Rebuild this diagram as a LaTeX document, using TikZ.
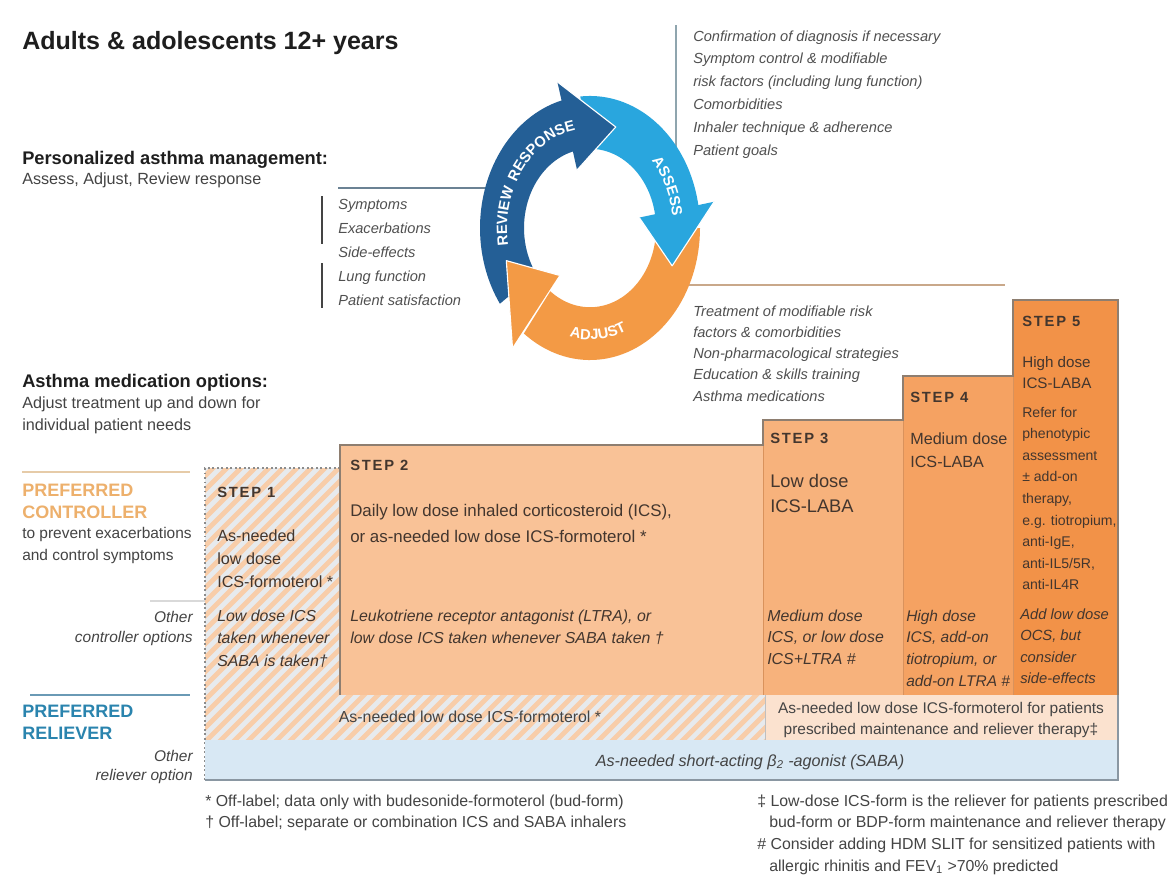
\documentclass[tikz,border=0pt]{standalone}
\usepackage{fontspec}
\setmainfont{Liberation Sans}
\newfontfamily\stepfont{Liberation Sans}[LetterSpace=12]
\newfontfamily\ringfont{Liberation Sans}[LetterSpace=16]
\usetikzlibrary{decorations.text}

\newcommand{\fsz}[1]{\fontsize{#1}{#1}\selectfont}
% ring geometry (cycle scope units)
\newcommand{\ringin}{66}
\newcommand{\ringout}{110}
\newcommand{\ringmid}{88}
\newcommand{\ringbarb}{16}

\definecolor{titleblack}{HTML}{1E1E1E}
\definecolor{txtgray}{HTML}{444444}
\definecolor{listgray}{HTML}{505050}
\definecolor{ringnavy}{HTML}{245F96}
\definecolor{ringsky}{HTML}{29A6DE}
\definecolor{ringorange}{HTML}{F39A45}
\definecolor{steptwo}{HTML}{F9C297}
\definecolor{stepthree}{HTML}{F7B27C}
\definecolor{stepfour}{HTML}{F5A262}
\definecolor{stepfive}{HTML}{F29248}
\definecolor{stepedge}{HTML}{8E7E70}
\definecolor{stepdiv}{HTML}{D9925C}
\definecolor{steptext}{HTML}{43362E}
\definecolor{hatchbg}{HTML}{E7EAED}
\definecolor{hatchline}{HTML}{F8CDA9}
\definecolor{relpeach}{HTML}{FBE2CF}
\definecolor{sabablue}{HTML}{D8E8F4}
\definecolor{tableedge}{HTML}{8A97A2}
\definecolor{ctrlorange}{HTML}{EDB06C}
\definecolor{ctrlline}{HTML}{E6CBA8}
\definecolor{relblue}{HTML}{2A84AE}
\definecolor{relline}{HTML}{6A9AB5}
\definecolor{reviewline}{HTML}{6B8294}
\definecolor{assessline}{HTML}{8FA5AE}
\definecolor{adjustline}{HTML}{C9A88A}

\tikzset{
  plain/.style={anchor=base west, inner sep=0pt, text=txtgray},
  plainr/.style={anchor=base east, inner sep=0pt, text=txtgray},
  plainc/.style={anchor=base, inner sep=0pt, text=txtgray},
  heading/.style={plain, text=titleblack, font=\bfseries\fsz{13}},
  listitem/.style={plain, text=listgray, font=\itshape\fsz{10.4}},
  steplabel/.style={plain, text=steptext, font=\stepfont\bfseries\fsz{10.5}},
  steptxt/.style={plain, text=steptext},
  otheropt/.style={plain, text=steptext, font=\itshape\fsz{11.3}},
  sidelabel/.style={plainr, font=\itshape\fsz{11}},
  hatch/.style={hatchline, line width=3.5pt},
  ringlabel/.style={decorate, decoration={text along path, text align=center,
      text color=white, text={|\ringfont\bfseries\fsz{10.5}|#1}}}
}

% thick arc of the cycle, from angle #1 to angle #2
\newcommand{\ringband}[3]{%
  \fill[#3] plot[variable=\ang, domain=0:1, samples=50]
      ({\ringout*cos((#1)+((#2)-(#1))*\ang)},{\ringout*sin((#1)+((#2)-(#1))*\ang)})
    -- plot[variable=\ang, domain=0:1, samples=50]
      ({\ringin*cos((#2)+((#1)-(#2))*\ang)},{\ringin*sin((#2)+((#1)-(#2))*\ang)})
    -- cycle;}
% arrow head of the cycle, back at angle #1, tip at angle #2
\newcommand{\ringtip}[3]{%
  \fill[#3] ({\ringin*cos(#1)},{\ringin*sin(#1)})
    -- ({(\ringin-\ringbarb)*cos(#1)},{(\ringin-\ringbarb)*sin(#1)})
    -- ({\ringmid*cos(#2)},{\ringmid*sin(#2)})
    -- ({(\ringout+\ringbarb)*cos(#1)},{(\ringout+\ringbarb)*sin(#1)})
    -- ({\ringout*cos(#1)},{\ringout*sin(#1)}) -- cycle;
  \draw[white, line width=0.8pt, line join=round]
    ({(\ringin-\ringbarb)*cos(#1)},{(\ringin-\ringbarb)*sin(#1)})
    -- ({\ringmid*cos(#2)},{\ringmid*sin(#2)})
    -- ({(\ringout+\ringbarb)*cos(#1)},{(\ringout+\ringbarb)*sin(#1)});}

\begin{document}
\begin{tikzpicture}[x=0.025cm, y=-0.025cm]
    \useasboundingbox (0,0) rectangle (1176,881);
    \fill[white] (0,0) rectangle (1176,881);

    % Headings
    \node[plain, text=titleblack, font=\bfseries\fsz{17.8}] (title) at (22,49) {Adults \& adolescents 12+ years};
    \node[heading] (pamhead) at (22,164) {Personalized asthma management:};
    \node[plain, font=\fsz{11.5}] (pamsub) at (22,184) {Assess, Adjust, Review response};
    \node[heading] (medhead) at (22,387) {Asthma medication options:};
    \node[plain, font=\fsz{11.5}] (medsub1) at (22,408) {Adjust treatment up and down for};
    \node[plain, font=\fsz{11.5}] (medsub2) at (22,430) {individual patient needs};

    % Lines to the lists
    \draw[reviewline, line width=1.2pt] (338,188) -- (500,188);
    \draw[txtgray, line width=0.8pt] (322,196) -- (322,244);
    \draw[txtgray, line width=0.8pt] (322,263) -- (322,308);
    \draw[assessline, line width=1pt] (676,25) -- (676,165);
    \draw[adjustline, line width=1.2pt] (682,285) -- (1005,285);

    % Lists
    \foreach \txt [count=\i] in {Confirmation of diagnosis if necessary, Symptom control \& modifiable,
        risk factors (including lung function), Comorbidities, Inhaler technique \& adherence, Patient goals}
      \node[listitem] (assess\i) at (693,{41+(\i-1)*22.9}) {\txt};
    \foreach \txt [count=\i] in {Symptoms, Exacerbations, Side-effects, Lung function, Patient satisfaction}
      \node[listitem] (review\i) at (338,{209+(\i-1)*24}) {\txt};
    \foreach \txt [count=\i] in {Treatment of modifiable risk, factors \& comorbidities,
        Non-pharmacological strategies, Education \& skills training, Asthma medications}
      \node[listitem] (adjust\i) at (693,{316+(\i-1)*21.3}) {\txt};

    % Cycle
    \begin{scope}[shift={(590,228)}, y=0.03cm]
      \ringband{215}{104}{ringnavy}
      \ringband{95}{9}{ringsky}
      \ringband{0}{-127}{ringorange}
      \ringtip{105}{73}{ringnavy}
      \ringtip{10}{-21}{ringsky}
      \ringtip{-128}{-162}{ringorange}
      \path[ringlabel={REVIEW RESPONSE}] plot[variable=\ang, domain=0:1, samples=60]
        ({83*cos(214-142*\ang)},{83*sin(214-142*\ang)});
      \path[ringlabel={ASSESS}] plot[variable=\ang, domain=0:1, samples=60]
        ({83*cos(95-135*\ang)},{83*sin(95-135*\ang)});
      \path[ringlabel={ADJUST}] plot[variable=\ang, domain=0:1, samples=60]
        ({93*cos(235+80*\ang)},{93*sin(235+80*\ang)});
    \end{scope}

    % Left labels
    \draw[ctrlline, line width=1pt] (22,472) -- (190,472);
    \node[plain, text=ctrlorange, font=\bfseries\fsz{12.8}] (ctrl1) at (22,496) {PREFERRED};
    \node[plain, text=ctrlorange, font=\bfseries\fsz{12.8}] (ctrl2) at (22,518) {CONTROLLER};
    \node[plain, font=\fsz{11}] (ctrlsub1) at (22,538) {to prevent exacerbations};
    \node[plain, font=\fsz{11}] (ctrlsub2) at (22,560) {and control symptoms};
    \draw[black!15, line width=0.8pt] (150,601) -- (205,601);
    \node[sidelabel] (othctrl1) at (193,622) {Other};
    \node[sidelabel] (othctrl2) at (193,642) {controller options};
    \draw[relline, line width=1pt] (30,695) -- (190,695);
    \node[plain, text=relblue, font=\bfseries\fsz{12.8}] (rel1) at (22,717) {PREFERRED};
    \node[plain, text=relblue, font=\bfseries\fsz{12.8}] (rel2) at (22,739) {RELIEVER};
    \node[sidelabel] (othrel1) at (193,761) {Other};
    \node[sidelabel] (othrel2) at (193,780) {reliever option};

    % Step 1 and as-needed reliever: hatched
    \begin{scope}
      \clip (205,468) rectangle (340,740) (340,695) rectangle (765,740);
      \fill[hatchbg] (205,468) rectangle (765,740);
      \foreach \xs in {-120,-106,...,780}
        \draw[hatch] (\xs,745) -- ++(300,-300);
    \end{scope}
    \draw[black!45, line width=1.2pt, dotted] (340,468) -- (205,468) -- (205,780);

    \node[steplabel] (s1head) at (217,497) {STEP 1};
    \foreach \txt [count=\i] in {As-needed, low dose, ICS-formoterol *}
      \node[steptxt, font=\fsz{11.5}] (s1pref\i) at (217,{541+(\i-1)*23}) {\txt};
    \foreach \txt [count=\i] in {Low dose ICS, taken whenever, SABA is taken†}
      \node[otheropt] (s1other\i) at (217,{621+(\i-1)*22.5}) {\txt};

    % Steps 2-5
    \fill[steptwo] (340,445) rectangle (763,695);
    \fill[stepthree] (763,420) rectangle (903,695);
    \fill[stepfour] (903,376) rectangle (1013,695);
    \fill[stepfive] (1013,300) rectangle (1118,695);
    \draw[stepdiv, line width=0.6pt] (763,445) -- (763,695);
    \draw[stepdiv, line width=0.6pt] (903,420) -- (903,695);
    \draw[stepdiv, line width=0.6pt] (1013,376) -- (1013,695);
    \draw[stepedge, line width=1.5pt] (340,695) -- (340,445) -- (763,445) -- (763,420) -- (903,420)
      -- (903,376) -- (1013,376) -- (1013,300) -- (1118,300) -- (1118,695);

    \node[steplabel] (s2head) at (350,470) {STEP 2};
    \node[steptxt, font=\fsz{12}] (s2pref1) at (350,516) {Daily low dose inhaled corticosteroid (ICS),};
    \node[steptxt, font=\fsz{12}] (s2pref2) at (350,542) {or as-needed low dose ICS-formoterol *};
    \node[otheropt] (s2other1) at (350,621) {Leukotriene receptor antagonist (LTRA), or};
    \node[otheropt] (s2other2) at (350,643) {low dose ICS taken whenever SABA taken †};

    \node[steplabel] (s3head) at (770,443) {STEP 3};
    \node[steptxt, font=\fsz{13}] (s3pref1) at (770,487) {Low dose};
    \node[steptxt, font=\fsz{13}] (s3pref2) at (770,512) {ICS-LABA};
    \foreach \txt [count=\i] in {Medium dose, {ICS, or low dose}, ICS+LTRA \#}
      \node[otheropt] (s3other\i) at (767,{621+(\i-1)*21.7}) {\txt};

    \node[steplabel] (s4head) at (910,402) {STEP 4};
    \node[steptxt, font=\fsz{11.5}] (s4pref1) at (910,444) {Medium dose};
    \node[steptxt, font=\fsz{11.5}] (s4pref2) at (910,467) {ICS-LABA};
    \foreach \txt [count=\i] in {High dose, {ICS, add-on}, {tiotropium, or}, add-on LTRA \#}
      \node[otheropt, font=\itshape\fsz{11}] (s4other\i) at (906,{621+(\i-1)*21.7}) {\txt};

    \node[steplabel] (s5head) at (1022,326) {STEP 5};
    \node[steptxt, font=\fsz{10.8}] (s5pref1) at (1022,367) {High dose};
    \node[steptxt, font=\fsz{10.8}] (s5pref2) at (1022,388) {ICS-LABA};
    \foreach \txt [count=\i] in {Refer for, phenotypic, assessment, ± add-on, {therapy,},
        {e.g. tiotropium,}, {anti-IgE,}, {anti-IL5/5R,}, anti-IL4R}
      \node[steptxt, font=\fsz{10}] (s5refer\i) at (1022,{417+(\i-1)*21.6}) {\txt};
    \foreach \txt [count=\i] in {Add low dose, {OCS, but}, consider, side-effects}
      \node[otheropt, font=\itshape\fsz{10.5}] (s5other\i) at (1020,{619+(\i-1)*21.5}) {\txt};

    % Reliever rows
    \fill[relpeach] (765,695) rectangle (1118,740);
    \draw[black!25, line width=0.6pt] (765,695) -- (765,740);
    \fill[sabablue] (205,740) rectangle (1118,780);
    \draw[tableedge, line width=1.5pt] (205,780) -- (1118,780) -- (1118,695);
    \node[plainc, font=\fsz{11.3}] (relstd) at (470,722) {As-needed low dose ICS-formoterol *};
    \node[plainc, font=\fsz{11}] (relmart1) at (941,713) {As-needed low dose ICS-formoterol for patients};
    \node[plainc, font=\fsz{11}] (relmart2) at (941,734) {prescribed maintenance and reliever therapy‡};
    \node[plainc, font=\itshape\fsz{11.5}] (saba) at (750,766) {As-needed short-acting β\textsubscript{2} -agonist (SABA)};

    % Footnotes
    \node[plain, font=\fsz{11.3}] (fnstar) at (205,806) {* Off-label; data only with budesonide-formoterol (bud-form)};
    \node[plain, font=\fsz{11.3}] (fndagger) at (205,827) {† Off-label; separate or combination ICS and SABA inhalers};
    \node[plain, font=\fsz{11.3}] (fnddagger1) at (757,806) {‡ Low-dose ICS-form is the reliever for patients prescribed};
    \node[plain, font=\fsz{11.3}] (fnddagger2) at (769,827) {bud-form or BDP-form maintenance and reliever therapy};
    \node[plain, font=\fsz{11.3}] (fnhash1) at (757,849) {\# Consider adding HDM SLIT for sensitized patients with};
    \node[plain, font=\fsz{11.3}] (fnhash2) at (769,871) {allergic rhinitis and FEV\textsubscript{1} >70\% predicted};
\end{tikzpicture}
\end{document}
